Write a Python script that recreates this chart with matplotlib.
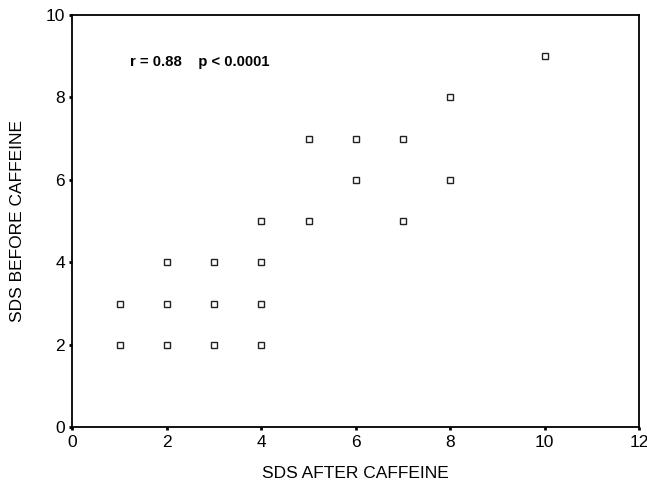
import matplotlib
matplotlib.use("Agg")
import matplotlib.pyplot as plt

plt.rcParams['font.family'] = ['Liberation Sans', 'DejaVu Sans']

# SDS after caffeine (x) vs before caffeine (y)
sds_after = [1, 1, 2, 2, 2, 3, 3, 3, 4, 4, 4, 4, 5, 5, 6, 6, 7, 7, 8, 8, 10]
sds_before = [2, 3, 2, 3, 4, 2, 3, 4, 2, 3, 4, 5, 5, 7, 6, 7, 5, 7, 6, 8, 9]
x_ticks = [0, 2, 4, 6, 8, 10, 12]
y_ticks = [0, 2, 4, 6, 8, 10]

fig = plt.figure(figsize=(6.47, 4.86), dpi=100)
ax = fig.add_axes([0.112, 0.121, 0.876, 0.848])

ax.plot(sds_after, sds_before, linestyle='none', marker='s', ms=4.6,
        mfc='white', mec='#222222', mew=1.0)

ax.set_xlim(0, 12)
ax.set_ylim(0, 10)
ax.set_xticks(x_ticks)
ax.set_yticks(y_ticks)
ax.tick_params(direction='out', length=2.5, width=2, labelsize=12.5, pad=3)
for s in ax.spines.values():
    s.set_linewidth(1.3)

ax.set_xlabel('SDS AFTER CAFFEINE', fontsize=12.5, labelpad=12)
ax.set_ylabel('SDS BEFORE CAFFEINE', fontsize=12.5, labelpad=15)

ax.text(1.22, 8.87, 'r = 0.88    p < 0.0001', fontsize=10.7, fontweight='bold',
        va='center', ha='left')

fig.savefig('out.png', dpi=100)
